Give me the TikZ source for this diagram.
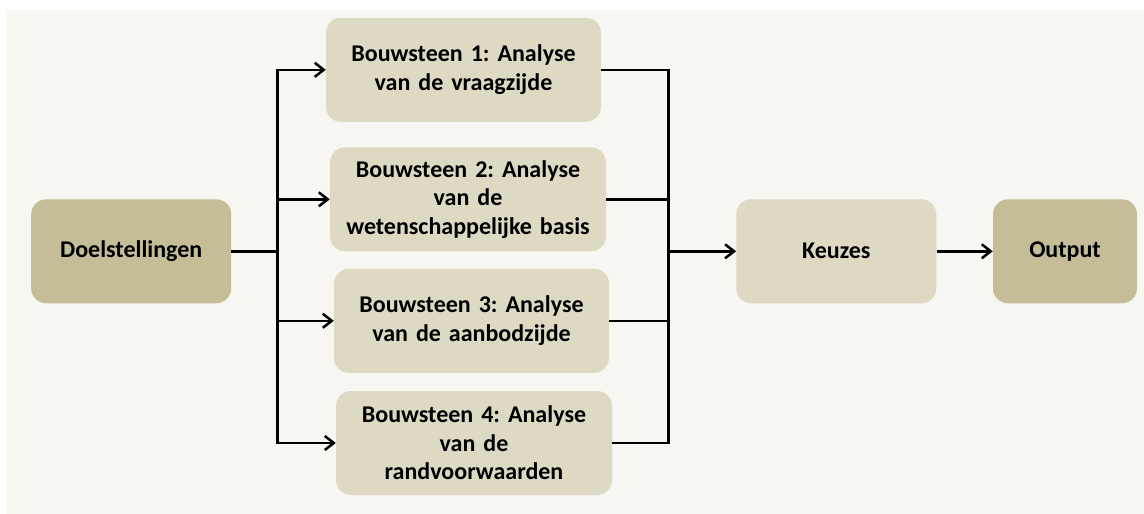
\documentclass[tikz,border=0pt]{standalone}
\usepackage{fontspec}
\setmainfont{Carlito}
\usetikzlibrary{arrows.meta}

\definecolor{achtergrond}{HTML}{F7F6F1}
\definecolor{donker}{HTML}{C4BD97}
\definecolor{licht}{HTML}{DDD9C3}

\frenchspacing

\begin{document}
\begin{tikzpicture}[x=1pt, y=-1pt,
    blok/.style={rounded corners=15pt, inner sep=0pt, align=center,
        minimum height=104pt, minimum width=#1, text width=#1,
        font=\fontsize{24}{28.5}\selectfont\bfseries},
    lijn/.style={line width=2.5pt},
    pijl/.style={lijn, -{Straight Barb[length=9pt, width=14pt]}}]

    \pgfmathsetmacro{\xl}{277.7}
    \pgfmathsetmacro{\xr}{668.3}

    % 背景
    \useasboundingbox (0,0) rectangle (1144,514);
    \fill[achtergrond] (7,10) rectangle (1144,514);

    % ブロック
    \node[blok=200pt, fill=donker] (doel) at (131.2,251.3) {Doelstellingen};
    \node[blok=275pt, fill=licht] (b1) at (463.5,69.8) {Bouwsteen 1: Analyse\\van de vraagzijde};
    \node[blok=276pt, fill=licht] (b2) at (468,199.3) {Bouwsteen 2: Analyse\\van de\\wetenschappelijke basis};
    \node[blok=275pt, fill=licht] (b3) at (471.5,320.8) {Bouwsteen 3: Analyse\\van de aanbodzijde};
    \node[blok=276pt, fill=licht] (b4) at (474,443) {Bouwsteen 4: Analyse\\van de\\randvoorwaarden};
    \node[blok=200pt, fill=licht] (keuzes) at (836.3,251.3) {Keuzes};
    \node[blok=144pt, fill=donker] (output) at (1065,251.3) {Output};

    % 分岐点
    \coordinate (links) at (\xl,251.3);
    \coordinate (rechts) at (\xr,251.3);

    % 矢印
    \draw[lijn] (doel) -- (links);
    \foreach \i in {1,...,4} {
        \draw[pijl] (links) |- (b\i);
        \draw[lijn] (b\i) -| (rechts);
    }
    \draw[pijl] (rechts) -- (keuzes);
    \draw[pijl] (keuzes) -- (output);

\end{tikzpicture}
\end{document}
